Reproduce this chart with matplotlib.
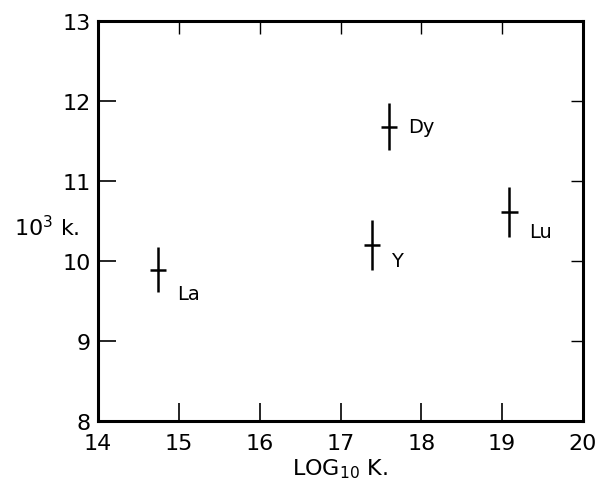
import matplotlib
matplotlib.use("Agg")
import matplotlib.pyplot as plt

# data
elements = ["La", "Y", "Dy", "Lu"]
log_K = [14.74, 17.39, 17.6, 19.09]
k_1e3 = [9.89, 10.2, 11.68, 10.61]
k_err = [0.28, 0.31, 0.29, 0.31]
x_err = [0.1, 0.1, 0.1, 0.1]
# label offsets in points (dx, dy)
label_off = [(14, -17), (14, -11), (14, 0), (14, -14)]

xticks = [14, 15, 16, 17, 18, 19, 20]
yticks = [8, 9, 10, 11, 12, 13]

plt.rcParams['font.family'] = ['DejaVu Sans']
fig = plt.figure(figsize=(5.98, 4.81), dpi=100)
ax = fig.add_axes([98 / 598, 1 - 422 / 481, 485 / 598, 400 / 481])

ax.errorbar(log_K, k_1e3, yerr=k_err, xerr=x_err, fmt='none',
            ecolor='black', elinewidth=1.8, capsize=0)

for name, x, y, (dx, dy) in zip(elements, log_K, k_1e3, label_off):
    ax.annotate(name, (x, y), xytext=(dx, dy), textcoords='offset points',
                fontsize=14, va='center', ha='left', color='black')

ax.set_xlim(14, 20)
ax.set_ylim(8, 13)
ax.set_xticks(xticks)
ax.set_yticks(yticks)
ax.tick_params(direction='in', length=13, width=1.2, labelsize=16)
ax.tick_params(axis='x', pad=9)
ax.tick_params(axis='y', pad=5)
for s in ax.spines.values():
    s.set_linewidth(2.2)

top = ax.secondary_xaxis('top')
top.set_xticks(xticks)
top.set_xticklabels([])
top.tick_params(direction='in', length=9, width=1.0)
right = ax.secondary_yaxis('right')
right.set_yticks(yticks)
right.set_yticklabels([])
right.tick_params(direction='in', length=9, width=1.0)

ax.set_xlabel(r'LOG$_{10}$ K.', fontsize=16, labelpad=2)
ax.set_ylabel(r'10$^3$ k.', fontsize=16, rotation=0)
ax.yaxis.set_label_coords(-0.105, 0.455)

fig.savefig("out.png", dpi=100)
